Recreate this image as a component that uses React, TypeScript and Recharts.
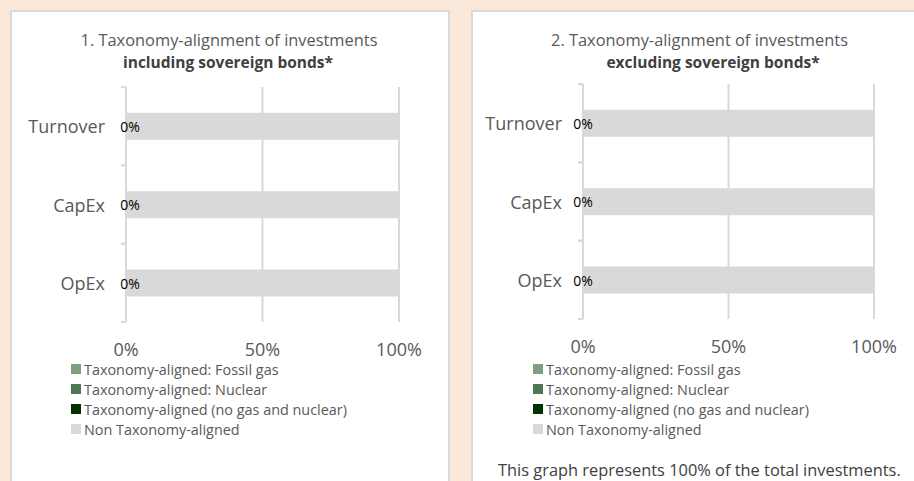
import { BarChart, Bar, XAxis, YAxis, CartesianGrid, LabelList } from "recharts";

const FONT = "'Open Sans', sans-serif";
const GRID = "#D9D9D9";
const TEXT = "#595959";

const categories = ["Turnover", "CapEx", "OpEx"];
const xTicks = [0, 50, 100];

// 1. including sovereign bonds
const fossilGasIncl = [0, 0, 0];
const nuclearIncl = [0, 0, 0];
const alignedIncl = [0, 0, 0];
const nonAlignedIncl = [100, 100, 100];

// 2. excluding sovereign bonds
const fossilGasExcl = [0, 0, 0];
const nuclearExcl = [0, 0, 0];
const alignedExcl = [0, 0, 0];
const nonAlignedExcl = [100, 100, 100];

const seriesKeys = ["fossil", "nuclear", "aligned", "non"];
const seriesNames = [
  "Taxonomy-aligned: Fossil gas",
  "Taxonomy-aligned: Nuclear",
  "Taxonomy-aligned (no gas and nuclear)",
  "Non Taxonomy-aligned",
];
const seriesColors = ["#7F9F82", "#4F7753", "#003300", "#D9D9D9"];

const buildRows = (f: number[], n: number[], a: number[], o: number[]) =>
  categories.map((c, i) => ({ category: c, fossil: f[i], nuclear: n[i], aligned: a[i], non: o[i] }));

const rowsIncl = buildRows(fossilGasIncl, nuclearIncl, alignedIncl, nonAlignedIncl);
const rowsExcl = buildRows(fossilGasExcl, nuclearExcl, alignedExcl, nonAlignedExcl);

const TICK_SIZE = 5;
const TICK_MARGIN = 16;

function CategoryTick(props: any) {
  const { x, y, payload, height, visibleTicksCount } = props;
  const half = payload.offset || height / visibleTicksCount / 2;
  const x1 = x + TICK_MARGIN;
  const x2 = x1 + TICK_SIZE;
  return (
    <g>
      <line x1={x1} x2={x2} y1={y - half} y2={y - half} stroke={GRID} strokeWidth={2} />
      <line x1={x1} x2={x2} y1={y + half} y2={y + half} stroke={GRID} strokeWidth={2} />
      <text x={x} y={y} textAnchor="end" dominantBaseline="central" fill={TEXT} fontSize={18} fontFamily={FONT}>
        {payload.value}
      </text>
    </g>
  );
}

// the aligned share is 0 wide, so its label is drawn at the start of the stacked row
const alignedLabel = (dx: number) => (p: any) => (
  <text
    x={p.x + dx}
    y={p.y + p.height / 2}
    textAnchor="middle"
    dominantBaseline="central"
    fill="#000"
    fontSize={14}
    fontFamily={FONT}
  >
    {`${p.value}%`}
  </text>
);

function TaxonomyChart({
  data,
  width,
  height,
  margin,
  labelDx,
}: {
  data: any[];
  width: number;
  height: number;
  margin: { top: number; right: number; bottom: number; left: number };
  labelDx: number;
}) {
  return (
    <BarChart width={width} height={height} data={data} layout="vertical" margin={margin} barCategoryGap="33%">
      <CartesianGrid horizontal={false} stroke={GRID} strokeWidth={2} />
      <XAxis
        type="number"
        domain={[0, 100]}
        ticks={xTicks}
        tickFormatter={(v) => `${v}%`}
        axisLine={false}
        tickLine={false}
        tickMargin={15}
        height={30}
        tick={{ fill: TEXT, fontSize: 18, fontFamily: FONT }}
      />
      <YAxis
        type="category"
        dataKey="category"
        width={110}
        axisLine={{ stroke: GRID, strokeWidth: 2 }}
        tickLine={false}
        tickSize={TICK_SIZE}
        tickMargin={TICK_MARGIN}
        tick={<CategoryTick />}
      />
      {seriesKeys.map((k, i) => (
        <Bar key={k} dataKey={k} name={seriesNames[i]} stackId="a" fill={seriesColors[i]} isAnimationActive={false}>
          {k === "non" && <LabelList dataKey="aligned" content={alignedLabel(labelDx)} />}
        </Bar>
      ))}
    </BarChart>
  );
}

function LegendBlock({ left, top }: { left: number; top: number }) {
  return (
    <div style={{ position: "absolute", left, top, fontFamily: FONT, fontSize: 14.4, color: TEXT }}>
      {seriesNames.map((name, i) => (
        <div key={name} style={{ display: "flex", alignItems: "center", height: 20, whiteSpace: "nowrap" }}>
          <span style={{ width: 10, height: 10, background: seriesColors[i], marginRight: 3, display: "inline-block" }} />
          {name}
        </div>
      ))}
    </div>
  );
}

const titleLine = (text: string, cx: number, cy: number, bold: boolean) => (
  <div
    style={{
      position: "absolute",
      left: cx - 200,
      top: cy - 10,
      width: 400,
      height: 20,
      lineHeight: "20px",
      textAlign: "center",
      fontFamily: FONT,
      fontSize: bold ? 15.5 : 16.4,
      fontWeight: bold ? 700 : 400,
      color: bold ? "#404040" : TEXT,
      whiteSpace: "nowrap",
    }}
  >
    {text}
  </div>
);

export default function App() {
  return (
    <div
      style={{
        position: "absolute",
        left: 0,
        top: 0,
        width: 914,
        height: 481,
        overflow: "hidden",
        background: "#FAE9DA",
      }}
    >
      <div
        style={{
          position: "absolute",
          left: 10,
          top: 10,
          width: 436,
          height: 500,
          background: "#fff",
          border: `2px solid ${GRID}`,
        }}
      />
      <div
        style={{
          position: "absolute",
          left: 471,
          top: 10,
          width: 500,
          height: 500,
          background: "#fff",
          border: `2px solid ${GRID}`,
        }}
      />

      {titleLine("1. Taxonomy-alignment of investments", 229, 40, false)}
      {titleLine("including sovereign bonds*", 228, 62, true)}
      {titleLine("2. Taxonomy-alignment of investments", 699.5, 40, false)}
      {titleLine("excluding sovereign bonds*", 713, 62, true)}

      <div style={{ position: "absolute", left: 0, top: 0 }}>
        <TaxonomyChart
          data={rowsIncl}
          width={460}
          height={400}
          margin={{ top: 87, right: 61, bottom: 48, left: 16 }}
          labelDx={4}
        />
      </div>
      <div style={{ position: "absolute", left: 460, top: 0 }}>
        <TaxonomyChart
          data={rowsExcl}
          width={454}
          height={400}
          margin={{ top: 84, right: 40, bottom: 51, left: 13 }}
          labelDx={0}
        />
      </div>

      <LegendBlock left={71} top={359} />
      <LegendBlock left={533} top={359} />

      <div
        style={{
          position: "absolute",
          left: 498,
          top: 460,
          lineHeight: "20px",
          fontFamily: FONT,
          fontSize: 16.4,
          color: "#404040",
          whiteSpace: "nowrap",
        }}
      >
        This graph represents 100% of the total investments.
      </div>
    </div>
  );
}
